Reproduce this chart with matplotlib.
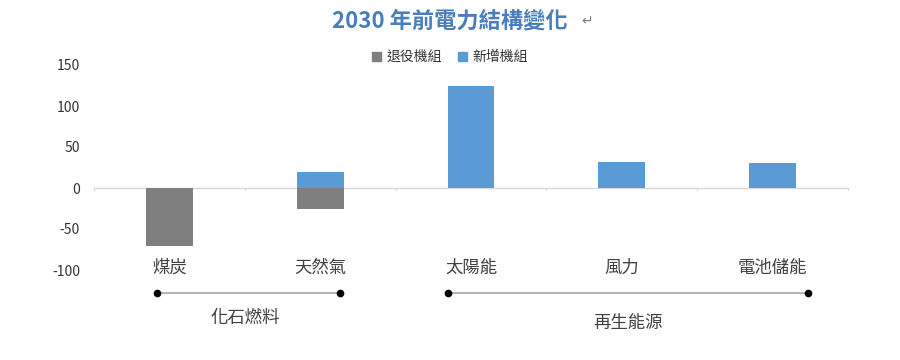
import matplotlib
matplotlib.use("Agg")
import matplotlib.pyplot as plt
from matplotlib.patches import Patch
import numpy as np

plt.rcParams['font.family'] = ['Noto Sans CJK TC', 'DejaVu Sans']

categories = ["煤炭", "天然氣", "太陽能", "風力", "電池儲能"]
retired = [-71, -25, 0, 0, 0]
added = [0, 20, 124, 32, 31]
series_names = ["退役機組", "新增機組"]
yticks = [-100, -50, 0, 50, 100, 150]
groups = ["化石燃料", "再生能源"]
title = "2030 年前電力結構變化"

GRAY = "#7f7f7f"
BLUE = "#5b9bd5"

fig = plt.figure(figsize=(9, 3.6), dpi=100)
ax = fig.add_axes([94/900, 90/360, 754/900, 205/360])
x = np.arange(len(categories))
w = 0.31
ax.bar(x, retired, width=w, color=GRAY, zorder=2)
ax.bar(x, added, width=w, color=BLUE, zorder=2)
ax.set_xlim(-0.5, len(categories) - 0.5)
ax.set_ylim(-100, 150)
ax.set_yticks(yticks)
ax.set_yticklabels([str(t) for t in yticks], fontsize=10, color="#333333")
ax.tick_params(axis='y', length=0, pad=10)
for s in ax.spines.values():
    s.set_visible(False)
ax.axhline(0, color="#d9d9d9", lw=1, zorder=1)
ax.set_xticks([])
# faint category boundary ticks on the zero line
for b in np.arange(-0.5, len(categories), 1.0):
    ax.plot([b, b], [-3, 0], color="#d9d9d9", lw=0.8, zorder=1, clip_on=False)

# category labels
for xi, c in zip(x, categories):
    ax.text(xi, -97, c, ha='center', va='center', fontsize=12.5, color="#404040")

# group brackets
ybr = -128
for (x0, x1), g, ylab, xm in [((-0.08, 1.13), groups[0], -159, 0.5),
                               ((1.85, 4.235), groups[1], -165, 3.04)]:
    ax.plot([x0, x1], [ybr, ybr], color="#a6a6a6", lw=1.2, clip_on=False, zorder=3)
    ax.plot([x0, x1], [ybr, ybr], 'o', color="black", ms=4.5, clip_on=False, zorder=4)
    ax.text(xm, ylab, g, ha='center', va='center', fontsize=12.5, color="#404040")

# title
fig.text(450/900, 1 - 21/360, title, ha='center', va='center', fontsize=16,
         color="#4a7ebb", fontweight='semibold')
fig.text(587/900, 1 - 21/360, "↵", ha='center', va='center', fontsize=10,
         color="#7f7f7f", family=['DejaVu Sans'])

handles = [Patch(color=GRAY), Patch(color=BLUE)]
fig.legend(handles, series_names, loc='center', bbox_to_anchor=(450/900, 1 - 57/360),
           ncol=2, frameon=False, fontsize=10, handlelength=0.6, handleheight=0.6,
           handletextpad=0.4, columnspacing=1.2, labelcolor="#333333")

fig.savefig("out.png", dpi=100)
